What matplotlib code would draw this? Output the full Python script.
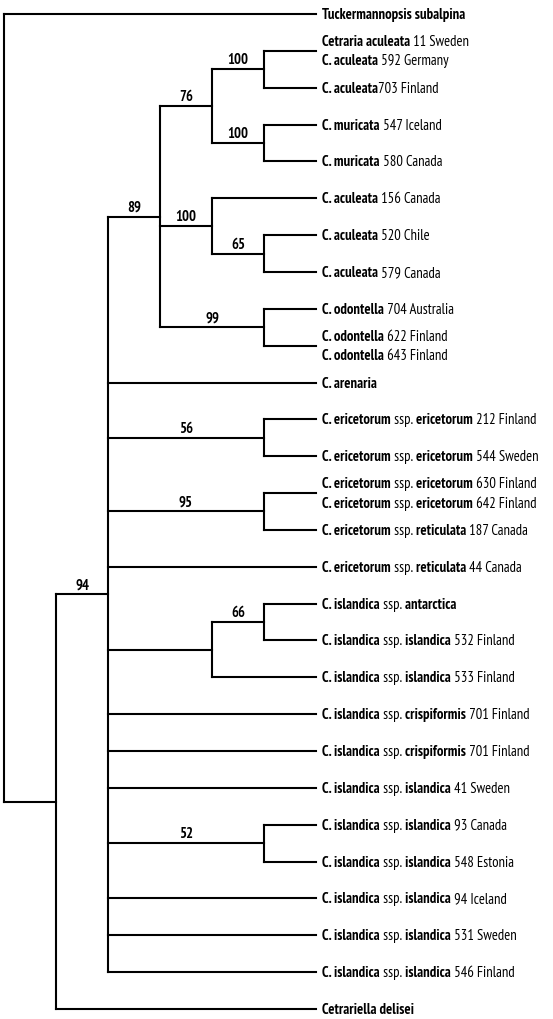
import matplotlib
matplotlib.use('Agg')
import matplotlib.pyplot as plt
from matplotlib.collections import LineCollection

plt.rcParams['font.family'] = ['PT Sans Narrow', 'Liberation Sans', 'DejaVu Sans']

# tip labels, one entry per row; bold parts are between asterisks
# two names on one row share a single tip
tips = [
    ['*Tuckermannopsis subalpina*'],
    ['*Cetraria aculeata* 11 Sweden', '*C. aculeata* 592 Germany'],
    ['*C. aculeata*703 Finland'],
    ['*C. muricata* 547 Iceland'],
    ['*C. muricata* 580 Canada'],
    ['*C. aculeata* 156 Canada'],
    ['*C. aculeata* 520 Chile'],
    ['*C. aculeata* 579 Canada'],
    ['*C. odontella* 704 Australia'],
    ['*C. odontella* 622 Finland', '*C. odontella* 643 Finland'],
    ['*C. arenaria*'],
    ['*C. ericetorum* ssp. *ericetorum* 212 Finland'],
    ['*C. ericetorum* ssp. *ericetorum* 544 Sweden'],
    ['*C. ericetorum* ssp. *ericetorum* 630 Finland',
     '*C. ericetorum* ssp. *ericetorum* 642 Finland'],
    ['*C. ericetorum* ssp. *reticulata* 187 Canada'],
    ['*C. ericetorum* ssp. *reticulata* 44 Canada'],
    ['*C. islandica* ssp. *antarctica*'],
    ['*C. islandica* ssp. *islandica* 532 Finland'],
    ['*C. islandica* ssp. *islandica* 533 Finland'],
    ['*C. islandica* ssp. *crispiformis* 701 Finland'],
    ['*C. islandica* ssp. *crispiformis* 701 Finland'],
    ['*C. islandica* ssp. *islandica* 41 Sweden'],
    ['*C. islandica* ssp. *islandica* 93 Canada'],
    ['*C. islandica* ssp. *islandica* 548 Estonia'],
    ['*C. islandica* ssp. *islandica* 94 Iceland'],
    ['*C. islandica* ssp. *islandica* 531 Sweden'],
    ['*C. islandica* ssp. *islandica* 546 Finland'],
    ['*Cetrariella delisei*'],
]

# topology: (bootstrap support, children), ints are rows in tips
clade_94 = (94, [
    (89, [
        (76, [(100, [1, 2]), (100, [3, 4])]),
        (100, [5, (65, [6, 7])]),
        (99, [8, 9]),
    ]),
    10,
    (56, [11, 12]),
    (95, [13, 14]),
    15,
    (None, [(66, [16, 17]), 18]),
    19, 20, 21,
    (52, [22, 23]),
    24, 25, 26,
])
tree = (None, [0, (None, [clade_94, 27])])

FS = 10.5


def height(node):
    if isinstance(node, int):
        return 0
    return 1 + max(height(c) for c in node[1])


def ypos(node):
    if isinstance(node, int):
        return node
    kids = node[1]
    return (ypos(kids[0]) + ypos(kids[-1])) / 2


def draw(ax, node, segs, depth, parent_x=None):
    x = depth - height(node)
    y = ypos(node)
    if parent_x is not None:
        segs.append([(parent_x, y), (x, y)])
    if isinstance(node, int):
        return
    support, kids = node
    segs.append([(x, ypos(kids[0])), (x, ypos(kids[-1]))])
    if support is not None:
        ax.annotate(str(support), xy=((parent_x + x) / 2, y), xytext=(0, 3),
                    textcoords='offset pixels', ha='center', va='bottom',
                    fontsize=FS, fontweight='bold')
    for k in kids:
        draw(ax, k, segs, depth, x)


def rich_label(ax, x, y, markup):
    # split into bold / normal pieces, keep spaces at the start of a piece
    pieces = []
    carry = ''
    for i, p in enumerate(markup.split('*')):
        p = carry + p
        carry = ''
        if p.endswith(' '):
            p = p.rstrip(' ')
            carry = ' '
        if p:
            pieces.append((p, 'bold' if i % 2 else 'normal'))
    prev = None
    for text, weight in pieces:
        if prev is None:
            prev = ax.annotate(text, xy=(x, y), xytext=(6, 0),
                               textcoords='offset pixels', ha='left',
                               va='center', fontsize=FS, fontweight=weight)
        else:
            prev = ax.annotate(text, xy=(1, 0), xycoords=prev, ha='left',
                               va='bottom', fontsize=FS, fontweight=weight)


fig = plt.figure(figsize=(5.53, 10.2), dpi=100)
ax = fig.add_axes([0, 0, 1, 1])
ax.axis('off')

depth = height(tree)
segs = []
draw(ax, tree, segs, depth)
ax.add_collection(LineCollection(segs, colors='black', linewidths=1.5,
                                 capstyle='projecting'))

for row, names in enumerate(tips):
    offs = [0] if len(names) == 1 else [-0.26, 0.26]
    for name, dy in zip(names, offs):
        rich_label(ax, depth, row + dy, name)

ax.set_xlim(-4 / 52, 549 / 52)
ax.set_ylim(1005 / 36.85, -15 / 36.85)

fig.savefig('out.png', dpi=100)
